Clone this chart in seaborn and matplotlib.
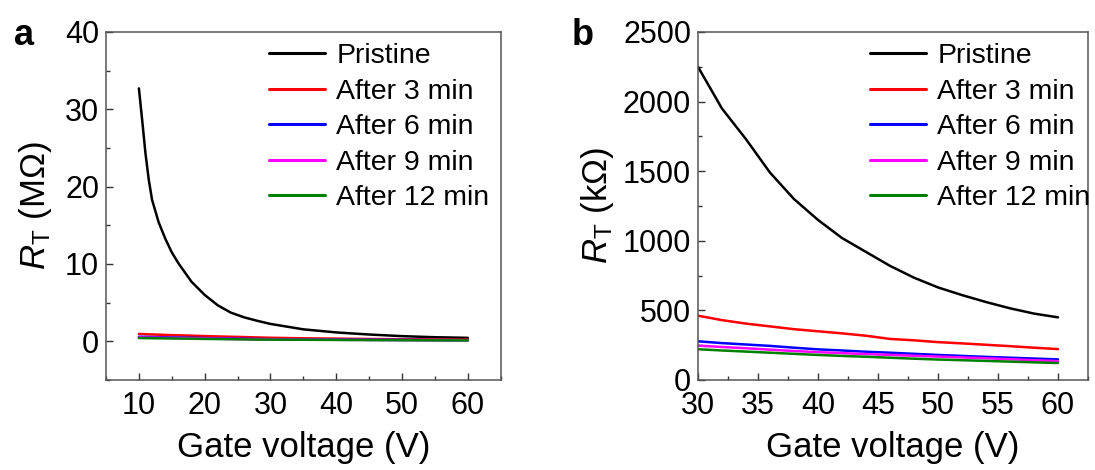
import numpy as np
import pandas as pd
import matplotlib
matplotlib.use("Agg")
import matplotlib.pyplot as plt
from matplotlib.ticker import MultipleLocator
import seaborn as sns

# ---------------- data ----------------
series_names = ["Pristine", "After 3 min", "After 6 min", "After 9 min", "After 12 min"]
series_colors = ["#000000", "#ff0000", "#0000ff", "#ff00ff", "#008000"]

# Panel a: R_T in MOhm
vg_a = [10, 10.5, 11, 11.5, 12, 13, 14, 15, 16, 18, 20, 22, 24, 26, 28, 30, 35, 40, 45, 50, 55, 60]
a_pristine = [32.7, 28.6, 24.3, 20.9, 18.3, 15.4, 13.3, 11.5, 10.1, 7.7, 6.0, 4.65, 3.7, 3.1,
              2.65, 2.25, 1.55, 1.15, 0.88, 0.67, 0.53, 0.45]
a_3min = [0.95, 0.94, 0.92, 0.90, 0.89, 0.86, 0.83, 0.80, 0.78, 0.73, 0.68, 0.63, 0.59, 0.55,
          0.50, 0.46, 0.39, 0.35, 0.30, 0.27, 0.25, 0.22]
a_6min = [0.58, 0.57, 0.57, 0.56, 0.55, 0.54, 0.52, 0.50, 0.49, 0.46, 0.42, 0.39, 0.36, 0.33,
          0.30, 0.28, 0.25, 0.22, 0.20, 0.18, 0.16, 0.15]
a_9min = [0.50, 0.50, 0.49, 0.48, 0.48, 0.47, 0.45, 0.44, 0.43, 0.40, 0.37, 0.34, 0.31, 0.29,
          0.27, 0.25, 0.22, 0.20, 0.18, 0.17, 0.15, 0.135]
a_12min = [0.42, 0.42, 0.41, 0.41, 0.40, 0.39, 0.38, 0.37, 0.36, 0.34, 0.31, 0.29, 0.27, 0.25,
           0.23, 0.22, 0.20, 0.18, 0.16, 0.15, 0.13, 0.12]

# Panel b: R_T in kOhm
vg_b = [30, 32, 34, 36, 38, 40, 42, 44, 46, 48, 50, 52, 54, 56, 58, 60]
b_pristine = [2250, 1950, 1730, 1490, 1300, 1150, 1020, 920, 820, 735, 665, 610, 560, 515, 477, 450]
b_3min = [462, 430, 405, 385, 365, 350, 335, 318, 295, 285, 272, 263, 253, 243, 232, 222]
b_6min = [278, 265, 255, 245, 232, 220, 212, 203, 196, 188, 180, 173, 166, 160, 154, 148]
b_9min = [247, 237, 228, 218, 208, 200, 193, 186, 180, 174, 168, 162, 156, 149, 142, 135]
b_12min = [221, 212, 204, 196, 188, 180, 173, 167, 160, 153, 147, 142, 137, 132, 127, 122]

def long_frame(x, ys):
    frames = []
    for name, y in zip(series_names, ys):
        frames.append(pd.DataFrame({"Vg": x, "R": y, "series": name}))
    return pd.concat(frames, ignore_index=True)

df_a = long_frame(vg_a, [a_pristine, a_3min, a_6min, a_9min, a_12min])
df_b = long_frame(vg_b, [b_pristine, b_3min, b_6min, b_9min, b_12min])

# ---------------- style ----------------
sns.set_theme(style="ticks")
plt.rcParams["font.family"] = ["Liberation Sans", "DejaVu Sans"]
plt.rcParams["mathtext.fontset"] = "custom"
plt.rcParams["mathtext.rm"] = "Liberation Sans"
plt.rcParams["mathtext.it"] = "Liberation Sans:italic"
plt.rcParams["mathtext.bf"] = "Liberation Sans:bold"
plt.rcParams["text.color"] = "black"
plt.rcParams["axes.labelcolor"] = "black"

fig = plt.figure(figsize=(10.95, 4.70), dpi=100)
ax_a = fig.add_axes([0.0968, 0.1915, 0.3605, 0.7405])
ax_b = fig.add_axes([0.6374, 0.1915, 0.3562, 0.7405])

palette = dict(zip(series_names, series_colors))

for ax, df, anchor in [(ax_a, df_a, (1.0, 1.0)), (ax_b, df_b, (1.035, 1.0))]:
    sns.lineplot(data=df, x="Vg", y="R", hue="series", hue_order=series_names,
                 palette=palette, estimator=None, sort=False, linewidth=1.8, ax=ax)
    for s in ax.spines.values():
        s.set_visible(True)
        s.set_linewidth(1.1)
        s.set_color("#555555")
    ax.tick_params(axis="both", which="major", direction="in", length=5, width=1,
                   labelsize=22, colors="#333333", labelcolor="black", top=False, right=False)
    ax.tick_params(axis="both", which="minor", direction="in", length=3, width=1,
                   colors="#333333", top=False, right=False)
    ax.tick_params(axis="x", which="major", pad=8)
    ax.tick_params(axis="y", which="major", pad=5)
    ax.set_xlabel("Gate voltage (V)", fontsize=25, labelpad=7)
    leg = ax.legend(loc="upper right", bbox_to_anchor=anchor, frameon=False, fontsize=20.5,
                    handlelength=1.95, handletextpad=0.4, labelspacing=0.33,
                    borderaxespad=0.1, borderpad=0.3)
    for line in leg.get_lines():
        line.set_linewidth(2.2)

ax_a.set_xlim(5, 65)
ax_a.set_ylim(-5, 40)
ax_a.xaxis.set_major_locator(MultipleLocator(10))
ax_a.xaxis.set_minor_locator(MultipleLocator(5))
ax_a.yaxis.set_major_locator(MultipleLocator(10))
ax_a.yaxis.set_minor_locator(MultipleLocator(5))
ax_a.set_ylabel(r"$R_{\mathrm{T}}$ (MΩ)", fontsize=25, labelpad=8)

ax_b.set_xlim(30, 62.5)
ax_b.set_ylim(0, 2500)
ax_b.xaxis.set_major_locator(MultipleLocator(5))
ax_b.xaxis.set_minor_locator(MultipleLocator(2.5))
ax_b.yaxis.set_major_locator(MultipleLocator(500))
ax_b.yaxis.set_minor_locator(MultipleLocator(250))
ax_b.set_ylabel(r"$R_{\mathrm{T}}$ (kΩ)", fontsize=25, labelpad=5)

fig.text(0.013, 0.905, "a", fontsize=26, fontweight="bold")
fig.text(0.522, 0.905, "b", fontsize=26, fontweight="bold")

fig.savefig("out.png", dpi=100)
